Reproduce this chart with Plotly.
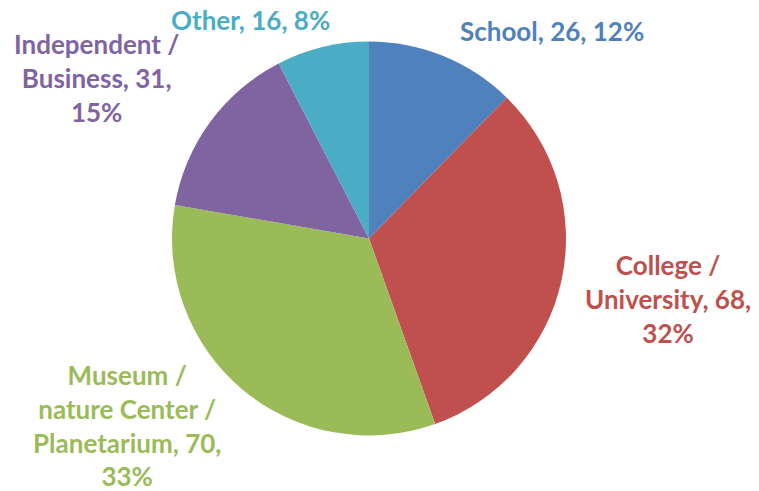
import plotly.graph_objects as go

categories = ["School", "College /<br>University", "Museum /<br>nature Center /<br>Planetarium",
              "Independent /<br>Business", "Other"]
values = [26, 68, 70, 31, 16]
colors = ["#4F81BD", "#C0504D", "#9BBB59", "#8064A2", "#4BACC6"]
pct_sep = [", ", ",<br>", ",<br>", ",<br>", ", "]
label_pos = [(552, 31), (668, 299), (127, 425), (96, 78), (250, 20)]

W, H = 759, 491
total = sum(values)
cx, cy, r = 369, 238.5, 197

fig = go.Figure(go.Pie(
    labels=[c.replace("<br>", " ") for c in categories],
    values=values,
    marker=dict(colors=colors, line=dict(width=0)),
    sort=False,
    direction="clockwise",
    rotation=0,
    textinfo="none",
    hoverinfo="label+value+percent",
    showlegend=False,
    domain=dict(x=[(cx - r) / W, (cx + r) / W], y=[(H - cy - r) / H, (H - cy + r) / H]),
))

for c, v, col, sep, (px, py) in zip(categories, values, colors, pct_sep, label_pos):
    pct = round(100 * v / total)
    fig.add_annotation(
        x=px / W, y=1 - py / H, xref="paper", yref="paper",
        text=f"{c}, {v}{sep}{pct}%", showarrow=False,
        font=dict(family="Lato", size=26, color=col, weight="bold"),
        align="center", xanchor="center", yanchor="middle",
    )

fig.update_layout(
    width=W, height=H,
    margin=dict(l=0, r=0, t=0, b=0),
    paper_bgcolor="white", plot_bgcolor="white",
)
fig.write_html("out.html")
